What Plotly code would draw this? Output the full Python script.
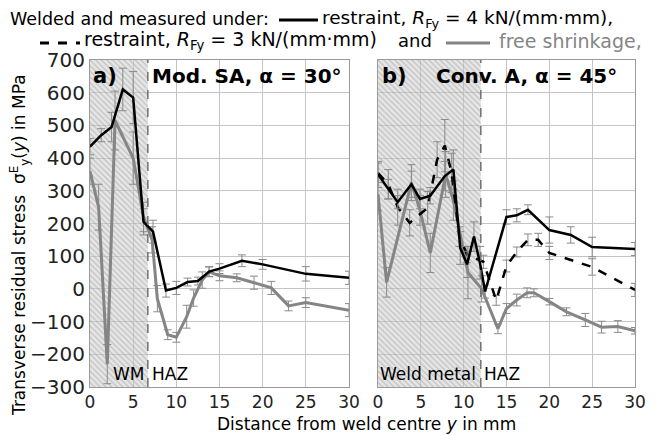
import plotly.graph_objects as go

# ---------------- data ----------------
# Panel a) Mod. SA, alpha = 30 deg
a_r4_x = [0, 1.3, 2.5, 3.8, 5, 6.2, 7.3, 8.8, 10, 11.3, 12.5, 13.8, 15, 17.6, 20, 25, 30]
a_r4_y = [435, 470, 495, 610, 585, 205, 175, -5, 3, 21, 24, 53, 62, 86, 75, 46, 34]
a_r4_e = [25, 20, 45, 65, 80, 40, 35, 20, 20, 12, 12, 15, 15, 18, 15, 22, 20]

a_free_x = [0, 1, 2, 2.9, 5, 6.2, 7.2, 7.8, 9, 10, 11.2, 12, 13, 13.8, 15, 17, 19, 21, 23, 25, 30]
a_free_y = [360, 250, -230, 515, 400, 220, 150, -30, -140, -148, -85, -28, 27, 52, 40, 34, 19, 3, -52, -42, -65]
a_free_e = [40, 70, 60, 90, 80, 45, 40, 40, 15, 15, 35, 25, 25, 15, 15, 12, 20, 20, 15, 15, 20]

# Panel b) Conv. A, alpha = 45 deg
b_r4_x = [0, 1.2, 2.3, 3.9, 4.9, 6.1, 7.8, 8.8, 9.6, 10.4, 11.2, 11.9, 12.5, 15, 16.2, 17.5, 20, 22.5, 25, 30]
b_r4_y = [350, 305, 265, 320, 275, 285, 345, 365, 125, 75, 160, 80, -8, 220, 225, 242, 180, 165, 128, 122]
b_r4_e = [40, 30, 20, 40, 30, 25, 45, 60, 50, 40, 45, 50, 20, 22, 20, 15, 40, 25, 30, 20]

b_r3_x = [0, 1.2, 2.3, 3.7, 5.8, 6.9, 7.8, 8.6, 9.5, 10.4, 12.3, 13.8, 15, 16.2, 17.5, 18.7, 20, 25, 30]
b_r3_y = [355, 320, 250, 202, 248, 395, 438, 355, 160, 105, 83, -35, 70, 113, 150, 150, 110, 67, -3]
b_r3_e = [30, 45, 55, 40, 50, 55, 80, 60, 30, 25, 20, 15, 18, 15, 18, 20, 20, 25, 20]

b_free_x = [0, 1, 3.9, 4.9, 6.1, 7.9, 8.8, 10.5, 12.1, 14, 15, 16.2, 17.4, 18.2, 20, 22, 24.2, 26.1, 28, 30]
b_free_y = [290, 20, 325, 240, 110, 350, 270, 50, 0, -122, -60, -34, -12, -12, -39, -70, -95, -117, -115, -128]
b_free_e = [50, 45, 55, 45, 60, 70, 60, 80, 40, 15, 15, 18, 15, 12, 10, 12, 20, 18, 18, 10]

weld_zone_a = 6.7   # end of weld metal zone (mm)
weld_zone_b = 12.0

x_ticks = [0, 5, 10, 15, 20, 25, 30]
y_ticks = [-300, -200, -100, 0, 100, 200, 300, 400, 500, 600, 700]
y_range = [-300, 700]

FONT = "DejaVu Sans"
GRAY = "#858585"
ERR = "#8a8a8a"

# page body has an 8px margin: compensate so the figure fills the window
OFF = 8
W, H = 662 - OFF, 435 - OFF
L, R, T, B = 90 - OFF, 27, 60 - OFF, 48
pw = W - L - R
ph = H - T - B


def px(xp):
    return (xp - OFF - L) / pw


def py(yp):
    return (H - B - (yp - OFF)) / ph


fig = go.Figure()


def hatch(xend, xa, ya):
    fig.add_trace(go.Scatter(
        x=[0, xend, xend, 0, 0], y=[y_range[0], y_range[0], y_range[1], y_range[1], y_range[0]],
        xaxis=xa, yaxis=ya, mode="lines", fill="toself", line=dict(width=0),
        fillcolor="rgba(0,0,0,0)",
        fillpattern=dict(shape="\\", fgcolor="#9a9a9a", bgcolor="rgba(205,205,205,0.5)",
                         size=4, solidity=0.3),
        hoverinfo="skip", showlegend=False))


hatch(weld_zone_a, "x", "y")
hatch(weld_zone_b, "x2", "y2")


def series(x, y, e, color, dash, width, xa, ya):
    fig.add_trace(go.Scatter(
        x=x, y=y, xaxis=xa, yaxis=ya, mode="lines",
        line=dict(color=color, width=width, dash=dash),
        error_y=dict(type="data", array=e, color=ERR, thickness=1, width=4),
        showlegend=False))


series(a_free_x, a_free_y, a_free_e, GRAY, "solid", 3, "x", "y")
series(a_r4_x, a_r4_y, a_r4_e, "black", "solid", 2.5, "x", "y")
series(b_free_x, b_free_y, b_free_e, GRAY, "solid", 3, "x2", "y2")
series(b_r3_x, b_r3_y, b_r3_e, "black", "dash", 2.5, "x2", "y2")
series(b_r4_x, b_r4_y, b_r4_e, "black", "solid", 2.5, "x2", "y2")

# weld zone boundaries
for xv, xr, yr in [(weld_zone_a, "x", "y"), (weld_zone_b, "x2", "y2")]:
    fig.add_shape(type="line", xref=xr, yref=yr, x0=xv, x1=xv, y0=y_range[0], y1=y_range[1],
                  line=dict(color="#707070", width=1.5, dash="dash"))

axis_common = dict(range=[0, 30], tickvals=x_ticks, showgrid=True, gridcolor="#c4c4c4",
                   gridwidth=1, showline=True, linecolor="#9a9a9a", mirror=True, ticks="",
                   zeroline=False, tickfont=dict(family=FONT, size=17, color="#222"))
yaxis_common = dict(range=y_range, tickvals=y_ticks, showgrid=True, gridcolor="#c4c4c4",
                    gridwidth=1, showline=True, linecolor="#9a9a9a", mirror=True, ticks="",
                    zeroline=False, tickfont=dict(family=FONT, size=20, color="#222"))

fig.update_layout(
    width=W, height=H,
    margin=dict(l=L, r=R, t=T, b=B),
    paper_bgcolor="white", plot_bgcolor="white",
    xaxis=dict(domain=[0, px(349)], anchor="y", **axis_common),
    yaxis=dict(domain=[0, 1], anchor="x", **yaxis_common),
    xaxis2=dict(domain=[px(378), 1], anchor="y2", **axis_common),
    yaxis2=dict(domain=[0, 1], anchor="x2", showticklabels=False, **yaxis_common),
    font=dict(family=FONT, size=16, color="black"),
)

ann = []


def text(s, xp, yp, size=16, color="black", xanchor="left", yanchor="middle", angle=0):
    ann.append(dict(text=s, x=px(xp), y=py(yp), xref="paper", yref="paper",
                    xanchor=xanchor, yanchor=yanchor, showarrow=False, textangle=angle,
                    font=dict(family=FONT, size=size, color=color)))


# legend header
text("Welded and measured under:", 8, 19, size=17.5)
text("restraint, <i>R</i><sub>Fy</sub> = 4 kN/(mm·mm),", 320, 19, size=18.5)
text("restraint, <i>R</i><sub>Fy</sub> = 3 kN/(mm·mm)", 82, 41, size=19)
text("and", 396, 41, size=18)
text("free shrinkage,", 497, 41, size=19, color=GRAY)
shapes_leg = [
    dict(x0=279, x1=318, y=20, color="black", dash="solid", width=3),
    dict(x0=40, x1=80, y=43, color="black", dash="dash", width=3),
    dict(x0=446, x1=490, y=43, color=GRAY, dash="solid", width=3),
]
for s in shapes_leg:
    fig.add_shape(type="line", xref="paper", yref="paper", x0=px(s["x0"]), x1=px(s["x1"]),
                  y0=py(s["y"]), y1=py(s["y"]),
                  line=dict(color=s["color"], width=s["width"], dash=s["dash"]))

# panel labels
text("<b>a)</b>", 91, 76, size=21)
text("<b>Mod. SA, α = 30°</b>", 150, 76, size=20)
text("<b>b)</b>", 380, 76, size=21)
text("<b>Conv. A, α = 45°</b>", 434, 76, size=20)

# zone labels
text("WM", 111, 374, size=17)
text("HAZ", 150, 374, size=17)
text("Weld metal", 378, 374, size=17)
text("HAZ", 482, 374, size=17)

# axis titles
text("Distance from weld centre <i>y</i> in mm", 366, 424, size=17, xanchor="center")
text("Transverse residual stress  σ<sup>E</sup><sub>y</sub>(<i>y</i>) in MPa", 19, 245, size=17,
     xanchor="center", angle=-90)

fig.update_layout(annotations=ann)
fig.write_html("out.html")
